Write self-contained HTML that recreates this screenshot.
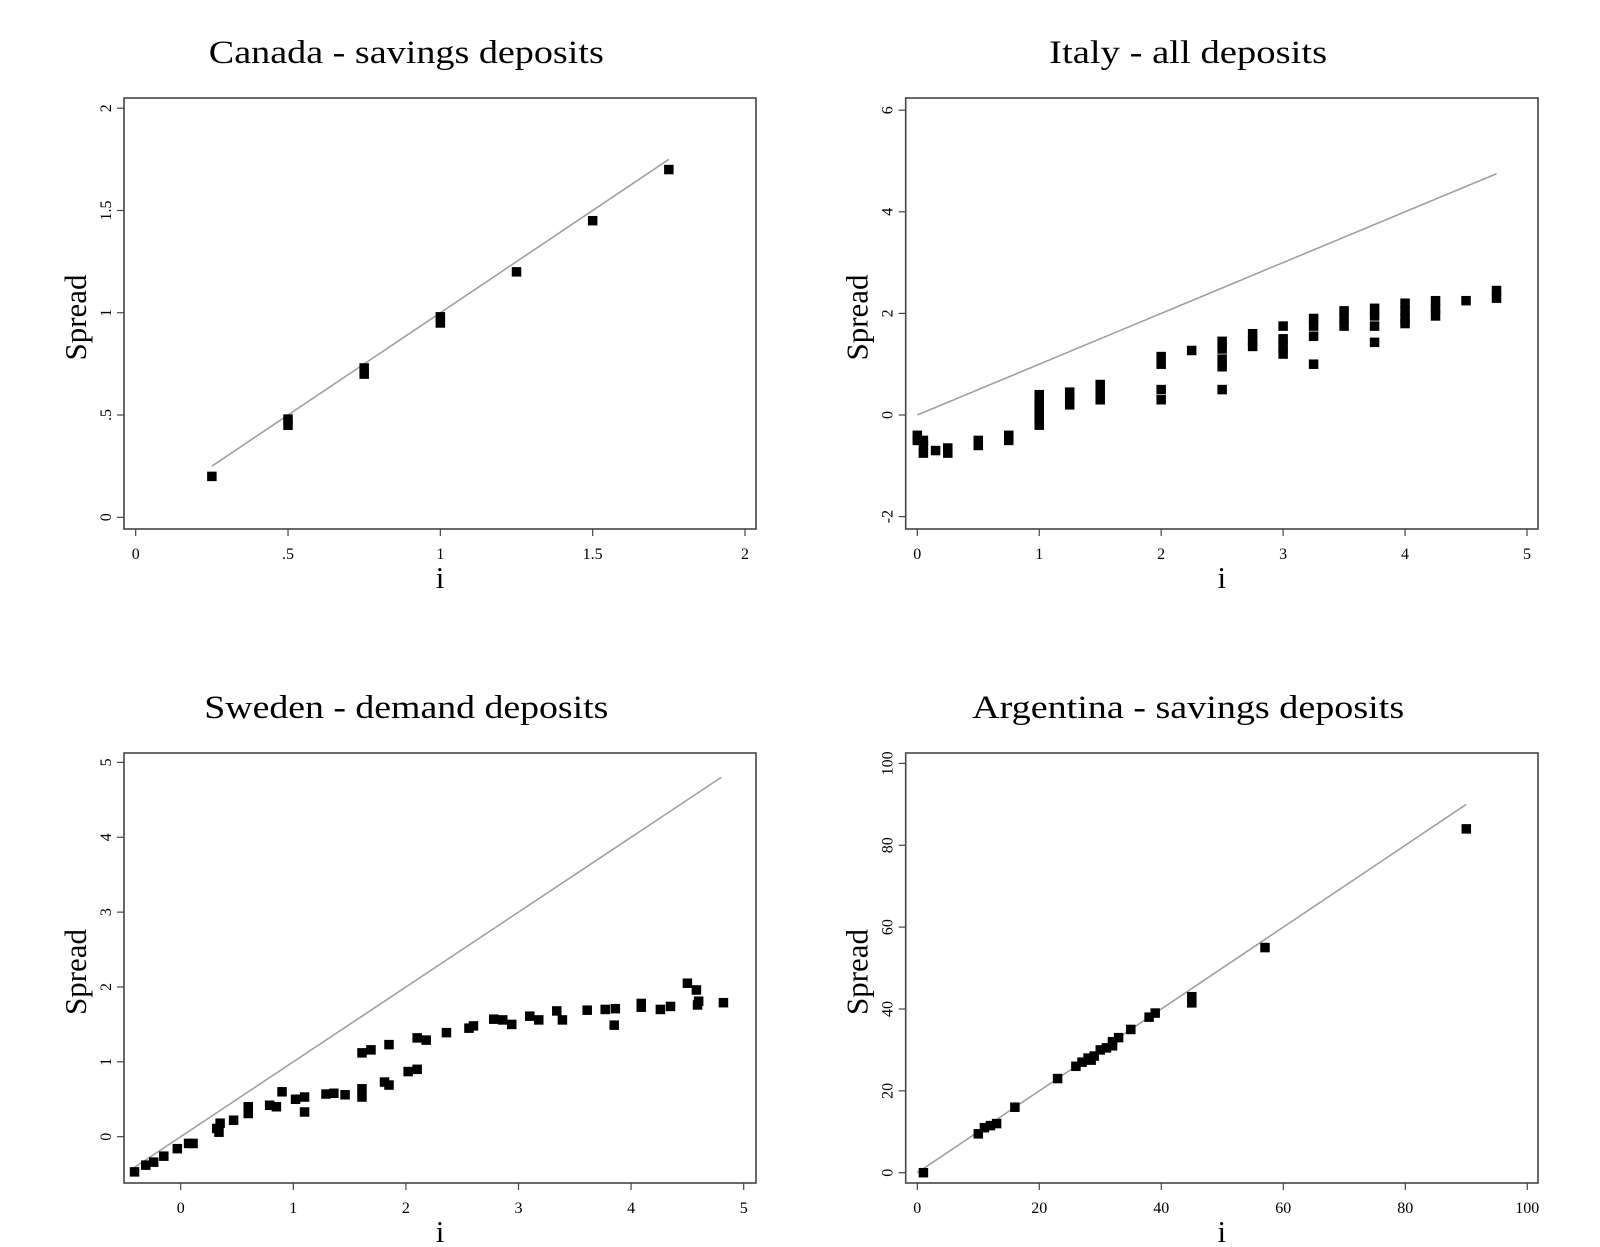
<!DOCTYPE html>
<html><head><meta charset="utf-8"><style>
html,body{margin:0;padding:0;background:#fff;}
svg{display:block;}
text{font-family:"Liberation Serif",serif;fill:#000;}
</style></head><body>
<svg id="chart" width="1600" height="1247" viewBox="0 0 1600 1247" xmlns="http://www.w3.org/2000/svg"></svg>
<script>
// Canada - savings deposits
const canadaX = [0.25,0.5,0.5,0.75,0.75,1,1,1.25,1.5,1.75];
const canadaY = [0.2,0.45,0.48,0.7,0.73,0.95,0.98,1.2,1.45,1.7];
const canadaLine = [0.25,1.75];
const canadaTicksX = [0,0.5,1,1.5,2];
const canadaTickLabelsX = ["0",".5","1","1.5","2"];
const canadaTicksY = [0,0.5,1,1.5,2];
const canadaTickLabelsY = ["0",".5","1","1.5","2"];
// Italy - all deposits
const italyX = [0,0,0.05,0.05,0.05,0.15,0.25,0.25,0.5,0.5,0.75,0.75,
  1,1,1,1,1,1,1,1.25,1.25,1.25,1.5,1.5,1.5,2,2,2,2,2.25,2.5,2.5,2.5,2.5,2.5,
  2.75,2.75,2.75,3,3,3,3,3.25,3.25,3.25,3.25,3.5,3.5,3.5,3.75,3.75,3.75,3.75,
  4,4,4,4,4.25,4.25,4.25,4.5,4.75,4.75];
const italyY = [-0.4,-0.5,-0.5,-0.6,-0.75,-0.7,-0.65,-0.75,-0.5,-0.6,-0.4,-0.5,
  0.4,0.3,0.2,0.1,0,-0.1,-0.2,0.45,0.35,0.2,0.6,0.45,0.3,1.15,1.0,0.5,0.3,1.27,1.45,1.3,1.1,0.95,0.5,
  1.6,1.45,1.35,1.75,1.5,1.35,1.2,1.9,1.75,1.55,1.0,2.05,1.9,1.75,2.1,1.95,1.75,1.43,
  2.2,2.05,1.9,1.8,2.25,2.1,1.95,2.25,2.45,2.3];
const italyLine = [0,4.75];
const italyTicksX = [0,1,2,3,4,5];
const italyTickLabelsX = ["0","1","2","3","4","5"];
const italyTicksY = [-2,0,2,4,6];
const italyTickLabelsY = ["-2","0","2","4","6"];
// Sweden - demand deposits
const swedenX = [-0.41,-0.31,-0.24,-0.15,-0.03,0.07,0.11,0.32,0.34,0.35,0.47,0.6,0.6,0.79,0.85,0.9,1.02,1.1,1.1,
  1.29,1.36,1.46,1.61,1.61,1.61,1.69,1.85,1.81,1.85,2.02,2.1,2.1,2.18,2.36,2.56,2.6,2.78,2.86,2.94,
  3.1,3.18,3.34,3.39,3.61,3.77,3.86,3.85,4.09,4.09,4.26,4.35,4.5,4.58,4.59,4.6,4.82];
const swedenY = [-0.47,-0.38,-0.34,-0.26,-0.16,-0.09,-0.09,0.11,0.06,0.18,0.22,0.4,0.31,0.42,0.4,0.6,0.5,0.53,0.33,
  0.57,0.58,0.56,0.64,0.53,1.12,1.16,1.23,0.73,0.69,0.87,0.9,1.32,1.29,1.39,1.45,1.48,1.57,1.56,1.5,
  1.61,1.56,1.68,1.56,1.69,1.7,1.71,1.49,1.73,1.78,1.7,1.74,2.05,1.96,1.76,1.81,1.79];
const swedenLine = [-0.42,4.8];
const swedenTicksX = [0,1,2,3,4,5];
const swedenTickLabelsX = ["0","1","2","3","4","5"];
const swedenTicksY = [0,1,2,3,4,5];
const swedenTickLabelsY = ["0","1","2","3","4","5"];
// Argentina - savings deposits
const argX = [1,10,11,12,13,16,23,26,27,28,28.5,29,30,31,32,32,33,35,38,39,45,45,57,90];
const argY = [0,9.5,11,11.5,12,16,23,26,27,28,27.5,28.5,30,30.5,31,32,33,35,38,39,43,41.5,55,84];
const argLine = [0,90];
const argTicksX = [0,20,40,60,80,100];
const argTickLabelsX = ["0","20","40","60","80","100"];
const argTicksY = [0,20,40,60,80,100];
const argTickLabelsY = ["0","20","40","60","80","100"];

const NS = "http://www.w3.org/2000/svg";
const svg = document.getElementById('chart');
function mk(tag, attrs, parent){
  const e = document.createElementNS(NS, tag);
  for (const k in attrs) e.setAttribute(k, attrs[k]);
  (parent||svg).appendChild(e);
  return e;
}
function scale(d0,d1,p0,p1){ return v => p0 + (v-d0)/(d1-d0)*(p1-p0); }

function panel(cfg){
  const g = mk('g', {});
  
  
  const sx = scale(cfg.xd[0], cfg.xd[1], cfg.xp[0], cfg.xp[1]);
  const sy = scale(cfg.yd[0], cfg.yd[1], cfg.yp[0], cfg.yp[1]);
  const f = cfg.frame;
  const t = mk('text', {x:(f[0]+f[2])/2-33.7, y:cfg.titleY, 'text-anchor':'middle', 'font-size':33, textLength:cfg.titleW, lengthAdjust:'spacingAndGlyphs'}, g);
  t.textContent = cfg.title;
  
  
  const fr = mk('rect', {x:f[0], y:f[1], width:f[2]-f[0], height:f[3]-f[1], fill:'none', stroke:'#444', 'stroke-width':1.6}, g);
  
  
  cfg.tx.forEach((v,i)=>{
    const x = sx(v);
    mk('line', {x1:x, x2:x, y1:f[3], y2:f[3]+7, stroke:'#444', 'stroke-width':1.2}, g);
    const tl = mk('text', {x:x, y:f[3]+30, 'text-anchor':'middle', 'font-size':16}, g);
    tl.textContent = cfg.txl[i];
    
    
  });
  cfg.ty.forEach((v,i)=>{
    const y = sy(v);
    mk('line', {x1:f[0]-7, x2:f[0], y1:y, y2:y, stroke:'#444', 'stroke-width':1.2}, g);
    const tl = mk('text', {x:0, y:0, 'text-anchor':'middle', 'font-size':16, transform:`translate(${f[0]-13},${y}) rotate(-90)`}, g);
    tl.textContent = cfg.tyl[i];
    
    
  });
  const yl = mk('text', {x:0, y:0, 'text-anchor':'middle', 'font-size':31, transform:`translate(${f[0]-38},${(f[1]+f[3])/2+4}) rotate(-90)`}, g);
  yl.textContent = 'Spread';
  
  
  const xl = mk('text', {x:(f[0]+f[2])/2, y:f[3]+59, 'text-anchor':'middle', 'font-size':31}, g);
  xl.textContent = 'i';
  
  
  const ln = mk('line', {x1:sx(cfg.line[0]), y1:sy(cfg.line[0]), x2:sx(cfg.line[1]), y2:sy(cfg.line[1]), stroke:'#a0a0a0', 'stroke-width':1.6}, g);
  
  
  const s = 9.5;
  cfg.px.forEach((v,i)=>{
    const r = mk('rect', {x:sx(v)-s/2, y:sy(cfg.py[i])-s/2, width:s, height:s, fill:'#000'}, g);
    
    
  });
}

panel({name:'canada-panel', title:'Canada - savings deposits', titleY:63, titleW:395, frame:[124,98,756,529],
  xd:[0,2], xp:[135.7,745], yd:[0,2], yp:[517.3,108.2],
  tx:canadaTicksX, txl:canadaTickLabelsX, ty:canadaTicksY, tyl:canadaTickLabelsY,
  line:canadaLine, px:canadaX, py:canadaY});
panel({name:'italy-panel', title:'Italy - all deposits', titleY:63, titleW:278, frame:[905.7,98,1538,529],
  xd:[0,5], xp:[917.3,1527], yd:[0,2], yp:[415,313.4],
  tx:italyTicksX, txl:italyTickLabelsX, ty:italyTicksY, tyl:italyTickLabelsY,
  line:italyLine, px:italyX, py:italyY});
panel({name:'sweden-panel', title:'Sweden - demand deposits', titleY:718, titleW:404, frame:[124,753,756,1183],
  xd:[0,1], xp:[180.7,293.3], yd:[0,5], yp:[1136.7,762.4],
  tx:swedenTicksX, txl:swedenTickLabelsX, ty:swedenTicksY, tyl:swedenTickLabelsY,
  line:swedenLine, px:swedenX, py:swedenY});
panel({name:'argentina-panel', title:'Argentina - savings deposits', titleY:718, titleW:432, frame:[905.7,753,1538,1183],
  xd:[0,100], xp:[917.3,1527.3], yd:[0,100], yp:[1172.7,763.4],
  tx:argTicksX, txl:argTickLabelsX, ty:argTicksY, tyl:argTickLabelsY,
  line:argLine, px:argX, py:argY});
</script>
</body></html>
